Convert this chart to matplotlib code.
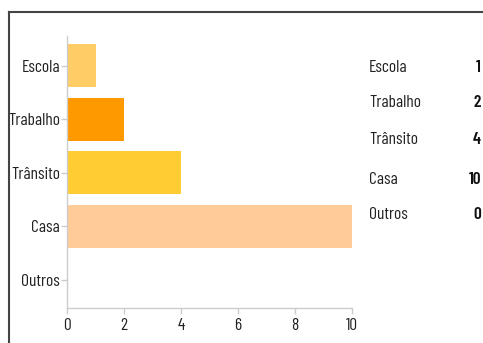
import matplotlib
matplotlib.use("Agg")
import matplotlib.pyplot as plt
from matplotlib.lines import Line2D
from matplotlib import font_manager as fm

categories = ["Escola", "Trabalho", "Trânsito", "Casa", "Outros"]
values = [1, 2, 4, 10, 0]
colors = ["#FFCC66", "#FF9900", "#FFCC33", "#FFCC99", "#FFCC99"]
xticks = [0, 2, 4, 6, 8, 10]

available = {f.name for f in fm.fontManager.ttflist}
prefs = ['Liberation Sans Narrow', 'Arial Narrow', 'Barlow Condensed', 'Roboto Condensed',
         'Archivo Narrow', 'DejaVu Sans']
family = next(p for p in prefs if p in available)
plt.rcParams['font.family'] = [family, 'DejaVu Sans']

W, H = 483, 343
fig = plt.figure(figsize=(W / 100, H / 100), dpi=100)
fig.patch.set_facecolor("white")

# frame lines (top and left)
fig.add_artist(Line2D([9 / W, 1], [1 - 12 / H, 1 - 12 / H], color="#444444", lw=1.5, transform=fig.transFigure))
fig.add_artist(Line2D([9 / W, 9 / W], [0, 1 - 12 / H], color="#444444", lw=1.5, transform=fig.transFigure))

ax = fig.add_axes([67 / W, 1 - 308 / H, (352 - 67) / W, (308 - 36) / H])
pos = list(range(len(categories)))
ax.barh(pos, values, height=0.8, color=colors)
ax.set_ylim(4.52, -0.55)
ax.set_xlim(0, 10)
ax.set_yticks(pos)
ax.set_yticklabels(categories)
ax.set_xticks(xticks)
ax.set_xticklabels([str(t) for t in xticks])
for s in ["top", "right"]:
    ax.spines[s].set_visible(False)
for s in ["left", "bottom"]:
    ax.spines[s].set_color("#cccccc")
    ax.spines[s].set_linewidth(1)
ax.tick_params(axis="both", colors="#cccccc", labelcolor="#222222", labelsize=12.5, length=4, width=1)
ax.tick_params(axis="y", pad=1)
ax.tick_params(axis="x", pad=3)

# side table
ys = [67, 103, 140, 179, 215]
for c, v, y in zip(categories, values, ys):
    fig.text(369 / W, 1 - y / H, c, ha="left", va="center", fontsize=12.5, color="#222222")
    fig.text(481 / W, 1 - y / H, str(v), ha="right", va="center", fontsize=12.5, color="#111111", fontweight="semibold")

fig.savefig("out.png", dpi=100)
